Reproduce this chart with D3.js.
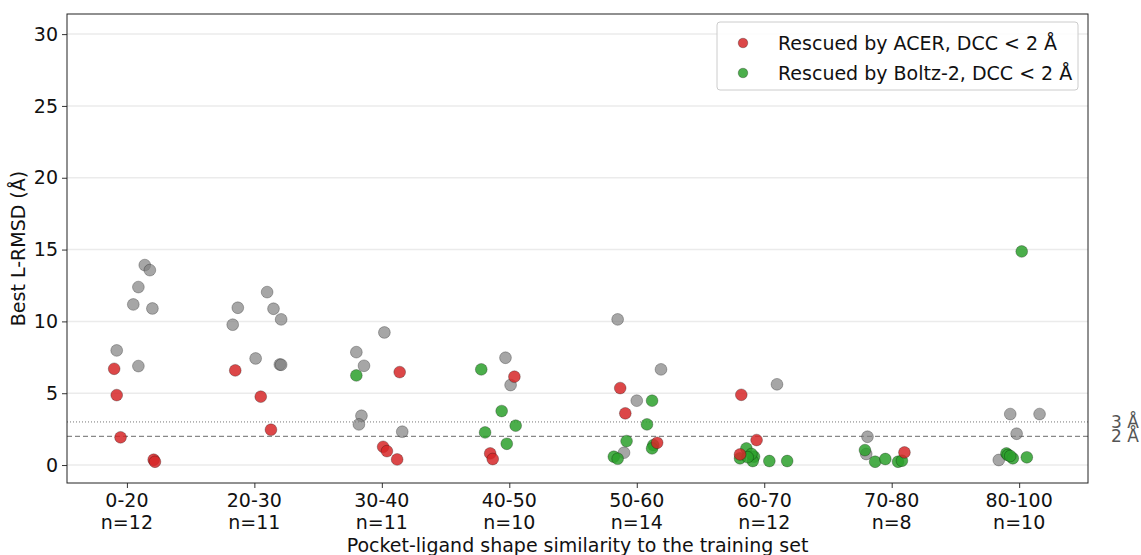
<!DOCTYPE html>
<html>
<head>
<meta charset="utf-8">
<script src="https://cdn.jsdelivr.net/npm/d3@7"></script>
<style>
  body { margin: 0; background: #fff; }
  svg { display: block; font-family: "DejaVu Sans", sans-serif; }
</style>
</head>
<body>
<svg id="chart" width="1141" height="555"></svg>
<script>
// categories and counts
var categories = ["0-20", "20-30", "30-40", "40-50", "50-60", "60-70", "70-80", "80-100"];
var counts = [12, 11, 11, 10, 14, 12, 8, 10];
var yTicks = [0, 5, 10, 15, 20, 25, 30];

// [category index, jitter, best L-RMSD]
var notRescued = [
  [0, 0.14, 13.92], [0, 0.18, 13.57], [0, 0.09, 12.39], [0, 0.05, 11.18], [0, 0.20, 10.90],
  [0, -0.08, 7.98], [0, 0.09, 6.89],
  [1, -0.17, 9.77], [1, -0.13, 10.95], [1, 0.10, 12.04], [1, 0.15, 10.88], [1, 0.21, 10.14],
  [1, 0.01, 7.42], [1, 0.20, 7.00], [1, 0.21, 6.98],
  [2, 0.02, 9.23], [2, -0.20, 7.86], [2, -0.14, 6.91], [2, -0.16, 3.43], [2, -0.18, 2.83], [2, 0.16, 2.32],
  [3, -0.03, 7.47], [3, 0.01, 5.57],
  [4, -0.15, 10.14], [4, 0.19, 6.66], [4, 0.00, 4.48], [4, -0.10, 0.86],
  [5, 0.10, 5.62],
  [6, -0.19, 1.97], [6, -0.20, 0.77],
  [7, -0.07, 3.55], [7, 0.16, 3.55], [7, -0.02, 2.18], [7, -0.16, 0.35]
];

var acerRescued = [
  [0, -0.10, 6.70], [0, -0.08, 4.87], [0, -0.05, 1.93], [0, 0.21, 0.37], [0, 0.22, 0.23],
  [1, -0.15, 6.59], [1, 0.05, 4.76], [1, 0.13, 2.46],
  [2, 0.14, 6.47], [2, 0.01, 1.27], [2, 0.04, 0.97], [2, 0.12, 0.39],
  [3, 0.04, 6.15], [3, -0.15, 0.81], [3, -0.13, 0.42],
  [4, -0.13, 5.36], [4, -0.09, 3.60], [4, 0.16, 1.55],
  [5, -0.18, 4.89], [5, -0.06, 1.74], [5, -0.19, 0.74],
  [6, 0.10, 0.88]
];

var boltzRescued = [
  [2, -0.20, 6.24],
  [3, -0.22, 6.66], [3, -0.06, 3.76], [3, 0.05, 2.74], [3, -0.19, 2.27], [3, -0.02, 1.48],
  [4, 0.12, 4.48], [4, 0.08, 2.83], [4, -0.08, 1.67], [4, 0.13, 1.39], [4, 0.12, 1.16],
  [4, -0.18, 0.58], [4, -0.15, 0.44],
  [5, -0.14, 1.16], [5, -0.19, 0.47], [5, -0.08, 0.58], [5, -0.09, 0.28], [5, -0.10, 0.77],
  [5, 0.04, 0.28], [5, 0.18, 0.28], [5, -0.13, 0.55],
  [6, -0.21, 1.04], [6, -0.13, 0.23], [6, -0.05, 0.42], [6, 0.05, 0.23], [6, 0.08, 0.30],
  [7, 0.02, 14.87], [7, -0.10, 0.81], [7, -0.09, 0.70], [7, -0.05, 0.47], [7, 0.06, 0.54], [7, -0.07, 0.63]
];

var thresholds = [3, 2];

var svg = d3.select("#chart");
var mLeft = 67, mRight = 1088, mTop = 14, mBottom = 483;
var fs = "19px";

var x = d3.scaleLinear().domain([-0.47, 7.54]).range([mLeft, mRight]);
var y = d3.scaleLinear().domain([-1.25, 31.4]).range([mBottom, mTop]);

//グリッド
svg.append("g")
  .selectAll("line")
  .data(yTicks)
  .enter()
  .append("line")
  .attr("x1", mLeft).attr("x2", mRight)
  .attr("y1", function(d){ return y(d); })
  .attr("y2", function(d){ return y(d); })
  .attr("stroke", "#ebebeb")
  .attr("stroke-width", 1.5);

//閾値ライン
svg.append("line")
  .attr("x1", mLeft).attr("x2", mRight)
  .attr("y1", y(3)).attr("y2", y(3))
  .attr("stroke", "#777").attr("stroke-width", 1)
  .attr("stroke-dasharray", "1,2");
svg.append("line")
  .attr("x1", mLeft).attr("x2", mRight)
  .attr("y1", y(2)).attr("y2", y(2))
  .attr("stroke", "#888").attr("stroke-width", 1.2)
  .attr("stroke-dasharray", "5,3");

svg.append("g")
  .selectAll("text")
  .data(thresholds)
  .enter()
  .append("text")
  .attr("x", 1111)
  .attr("y", function(d){ return y(d); })
  .attr("dy", "0.35em")
  .attr("font-size", "17px")
  .attr("fill", "#555")
  .text(function(d){ return d + " Å"; });

//点
function drawPoints(data, fill, opacity) {
  svg.append("g")
    .selectAll("circle")
    .data(data)
    .enter()
    .append("circle")
    .attr("cx", function(d){ return x(d[0] + d[1]); })
    .attr("cy", function(d){ return y(d[2]); })
    .attr("r", 5.9)
    .attr("fill", fill)
    .attr("fill-opacity", opacity)
    .attr("stroke", "#000")
    .attr("stroke-opacity", 0.45)
    .attr("stroke-width", 0.6);
}
drawPoints(notRescued, "#808080", 0.7);
drawPoints(boltzRescued, "#2ca02c", 0.85);
drawPoints(acerRescued, "#d62728", 0.85);

//軸
var yAxis = d3.axisLeft(y).tickValues(yTicks).tickSize(5).tickPadding(4);
var gy = svg.append("g").attr("transform", "translate(" + mLeft + ",0)").call(yAxis);
gy.select(".domain").remove();
gy.selectAll("text").attr("font-size", fs).attr("fill", "#111").attr("font-family", "DejaVu Sans");
gy.selectAll("line").attr("stroke", "#333");

var xAxis = d3.axisBottom(x).tickValues(d3.range(categories.length)).tickSize(5).tickFormat(function(){ return ""; });
var gx = svg.append("g").attr("transform", "translate(0," + mBottom + ")").call(xAxis);
gx.select(".domain").remove();
gx.selectAll("line").attr("stroke", "#333");

svg.append("g")
  .selectAll("text")
  .data(categories)
  .enter()
  .append("text")
  .attr("x", function(d, i){ return x(i); })
  .attr("y", 507)
  .attr("text-anchor", "middle")
  .attr("font-size", fs)
  .attr("fill", "#111")
  .each(function(d, i){
    var t = d3.select(this);
    t.append("tspan").attr("x", x(i)).text(d);
    t.append("tspan").attr("x", x(i)).attr("dy", "1.15em").text("n=" + counts[i]);
  });

svg.append("rect")
  .attr("x", mLeft).attr("y", mTop)
  .attr("width", mRight - mLeft).attr("height", mBottom - mTop)
  .attr("fill", "none").attr("stroke", "#222").attr("stroke-width", 1);

//ラベル
svg.append("text")
  .attr("x", (mLeft + mRight) / 2)
  .attr("y", 552)
  .attr("text-anchor", "middle")
  .attr("font-size", fs)
  .attr("fill", "#111")
  .text("Pocket-ligand shape similarity to the training set");

svg.append("text")
  .attr("transform", "translate(25," + ((mTop + mBottom) / 2) + ") rotate(-90)")
  .attr("text-anchor", "middle")
  .attr("font-size", fs)
  .attr("fill", "#111")
  .text("Best L-RMSD (Å)");

//凡例
var legend = svg.append("g");
legend.append("rect")
  .attr("x", 717).attr("y", 22)
  .attr("width", 361).attr("height", 68)
  .attr("rx", 3)
  .attr("fill", "#fff").attr("fill-opacity", 0.85)
  .attr("stroke", "#ccc");
var legendItems = [
  ["Rescued by ACER, DCC < 2 Å", "#d62728"],
  ["Rescued by Boltz-2, DCC < 2 Å", "#2ca02c"]
];
legendItems.forEach(function(d, i){
  var yy = 43 + i * 30;
  legend.append("circle")
    .attr("cx", 743).attr("cy", yy).attr("r", 4.8)
    .attr("fill", d[1]).attr("fill-opacity", 0.85)
    .attr("stroke", "#000").attr("stroke-opacity", 0.45).attr("stroke-width", 0.6);
  legend.append("text")
    .attr("x", 778).attr("y", yy)
    .attr("dy", "0.35em")
    .attr("font-size", fs)
    .attr("fill", "#111")
    .text(d[0]);
});
</script>
</body>
</html>
